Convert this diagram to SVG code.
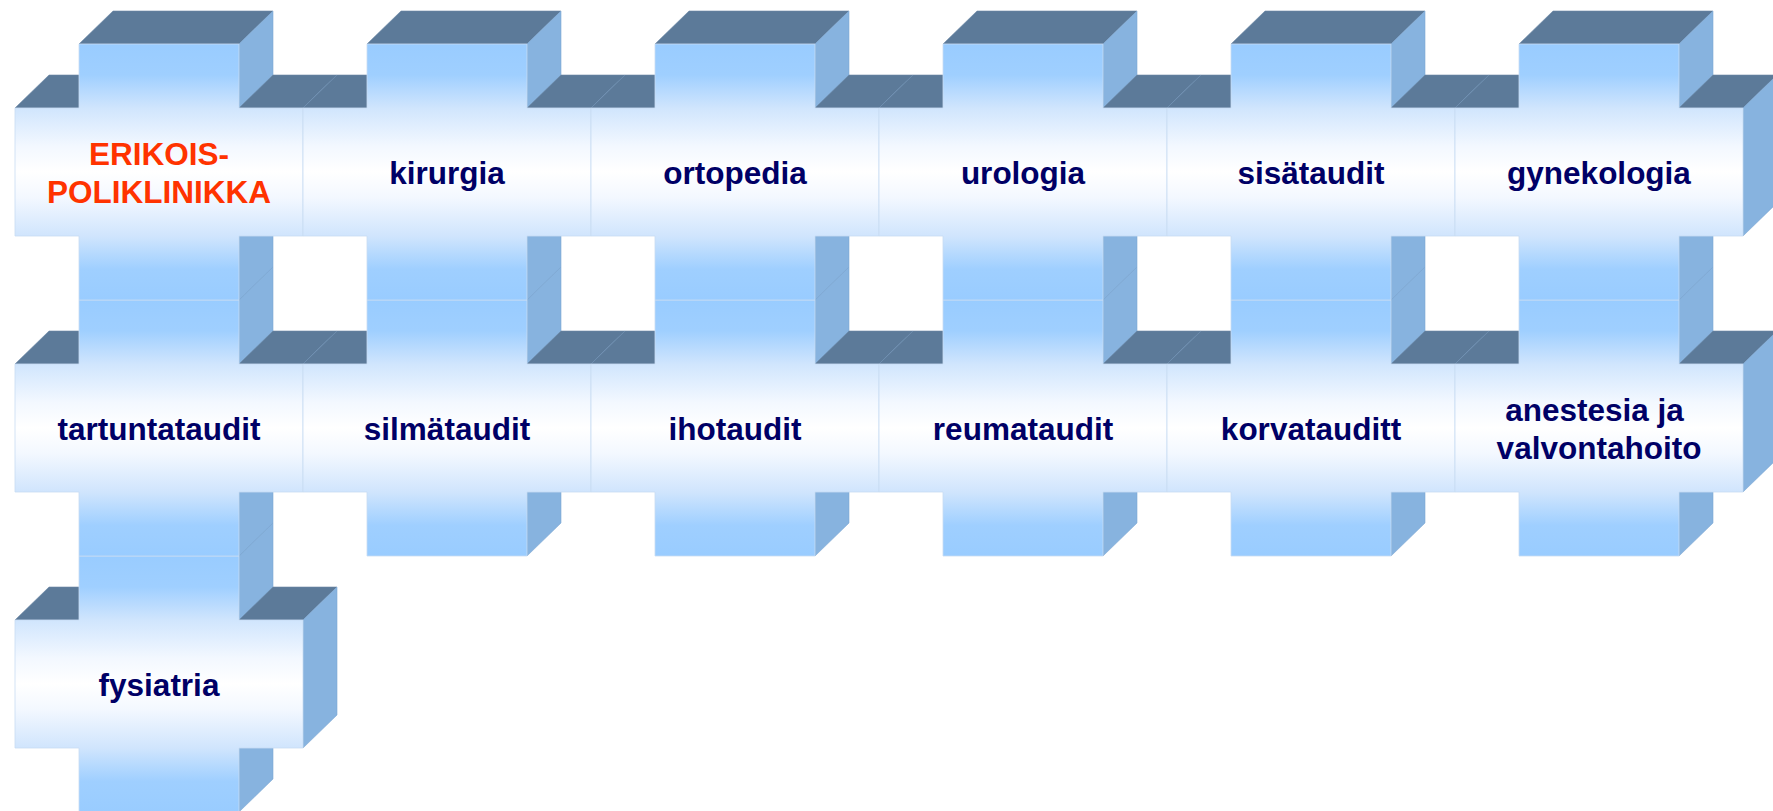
<svg xmlns="http://www.w3.org/2000/svg" xmlns:xlink="http://www.w3.org/1999/xlink" width="1773" height="811" viewBox="0 0 1773 811">
  <defs>
    <linearGradient id="frontFill" x1="0" y1="0" x2="0" y2="1">
      <stop offset="0" stop-color="#99CCFF"/>
      <stop offset="0.12" stop-color="#9FCFFF"/>
      <stop offset="0.25" stop-color="#D0E5FD"/>
      <stop offset="0.4" stop-color="#F3F8FF"/>
      <stop offset="0.5" stop-color="#FFFFFF"/>
      <stop offset="0.6" stop-color="#F3F8FF"/>
      <stop offset="0.75" stop-color="#D0E5FD"/>
      <stop offset="0.88" stop-color="#9FCFFF"/>
      <stop offset="1" stop-color="#99CCFF"/>
    </linearGradient>
    <!-- extruded plus-shaped block; local origin = top of the vertical bar -->
    <g id="cross">
      <polygon class="top" points="79,0 239,0 273,-33 113,-33"/>
      <polygon class="top" points="15,64 79,64 113,31 49,31"/>
      <polygon class="side" points="239,0 273,-33 273,223 239,256"/>
      <polygon class="top" points="239,64 303,64 337,31 273,31"/>
      <polygon class="side" points="303,64 337,31 337,159 303,192"/>
      <path class="front" d="M79,0 H239 V64 H303 V192 H239 V256 H79 V192 H15 V64 H79 Z"/>
    </g>
  </defs>
  <style>
    .top { fill: #5C7A99; stroke: #6B88A6; stroke-width: 0.6; }
    .side { fill: #87B3DF; stroke: #7EA8D4; stroke-width: 0.6; }
    .front { fill: url(#frontFill); stroke: #C8DCF2; stroke-width: 0.8; }
    .lbl { font-family: "Liberation Sans", Arial, sans-serif; font-size: 31.5px; font-weight: bold; fill: #000066; text-anchor: middle; }
    .head { fill: #FF3300; }
  </style>
  <rect width="1773" height="811" fill="#FFFFFF"/>

  <!-- bottom row first so upper blocks overlap the joints -->
  <g id="fysiatria" transform="translate(0,556)">
    <use xlink:href="#cross"/>
    <text class="lbl" x="159" y="139.5">fysiatria</text>
  </g>

  <!-- middle row -->
  <g id="tartuntataudit" transform="translate(0,300)">
    <use xlink:href="#cross"/>
    <text class="lbl" x="159" y="139.5">tartuntataudit</text>
  </g>
  <g id="silmataudit" transform="translate(288,300)">
    <use xlink:href="#cross"/>
    <text class="lbl" x="159" y="139.5">silmätaudit</text>
  </g>
  <g id="ihotaudit" transform="translate(576,300)">
    <use xlink:href="#cross"/>
    <text class="lbl" x="159" y="139.5">ihotaudit</text>
  </g>
  <g id="reumataudit" transform="translate(864,300)">
    <use xlink:href="#cross"/>
    <text class="lbl" x="159" y="139.5">reumataudit</text>
  </g>
  <g id="korvatauditt" transform="translate(1152,300)">
    <use xlink:href="#cross"/>
    <text class="lbl" x="159" y="139.5">korvatauditt</text>
  </g>
  <g id="anestesia" transform="translate(1440,300)">
    <use xlink:href="#cross"/>
    <text class="lbl" x="154.5" y="121">anestesia ja</text>
    <text class="lbl" x="159" y="159">valvontahoito</text>
  </g>

  <!-- top row -->
  <g id="erikoispoliklinikka" transform="translate(0,44)">
    <use xlink:href="#cross"/>
    <text class="lbl head" x="159" y="121">ERIKOIS-</text>
    <text class="lbl head" x="159" y="159">POLIKLINIKKA</text>
  </g>
  <g id="kirurgia" transform="translate(288,44)">
    <use xlink:href="#cross"/>
    <text class="lbl" x="159" y="139.5">kirurgia</text>
  </g>
  <g id="ortopedia" transform="translate(576,44)">
    <use xlink:href="#cross"/>
    <text class="lbl" x="159" y="139.5">ortopedia</text>
  </g>
  <g id="urologia" transform="translate(864,44)">
    <use xlink:href="#cross"/>
    <text class="lbl" x="159" y="139.5">urologia</text>
  </g>
  <g id="sisataudit" transform="translate(1152,44)">
    <use xlink:href="#cross"/>
    <text class="lbl" x="159" y="139.5">sisätaudit</text>
  </g>
  <g id="gynekologia" transform="translate(1440,44)">
    <use xlink:href="#cross"/>
    <text class="lbl" x="159" y="139.5">gynekologia</text>
  </g>
</svg>
